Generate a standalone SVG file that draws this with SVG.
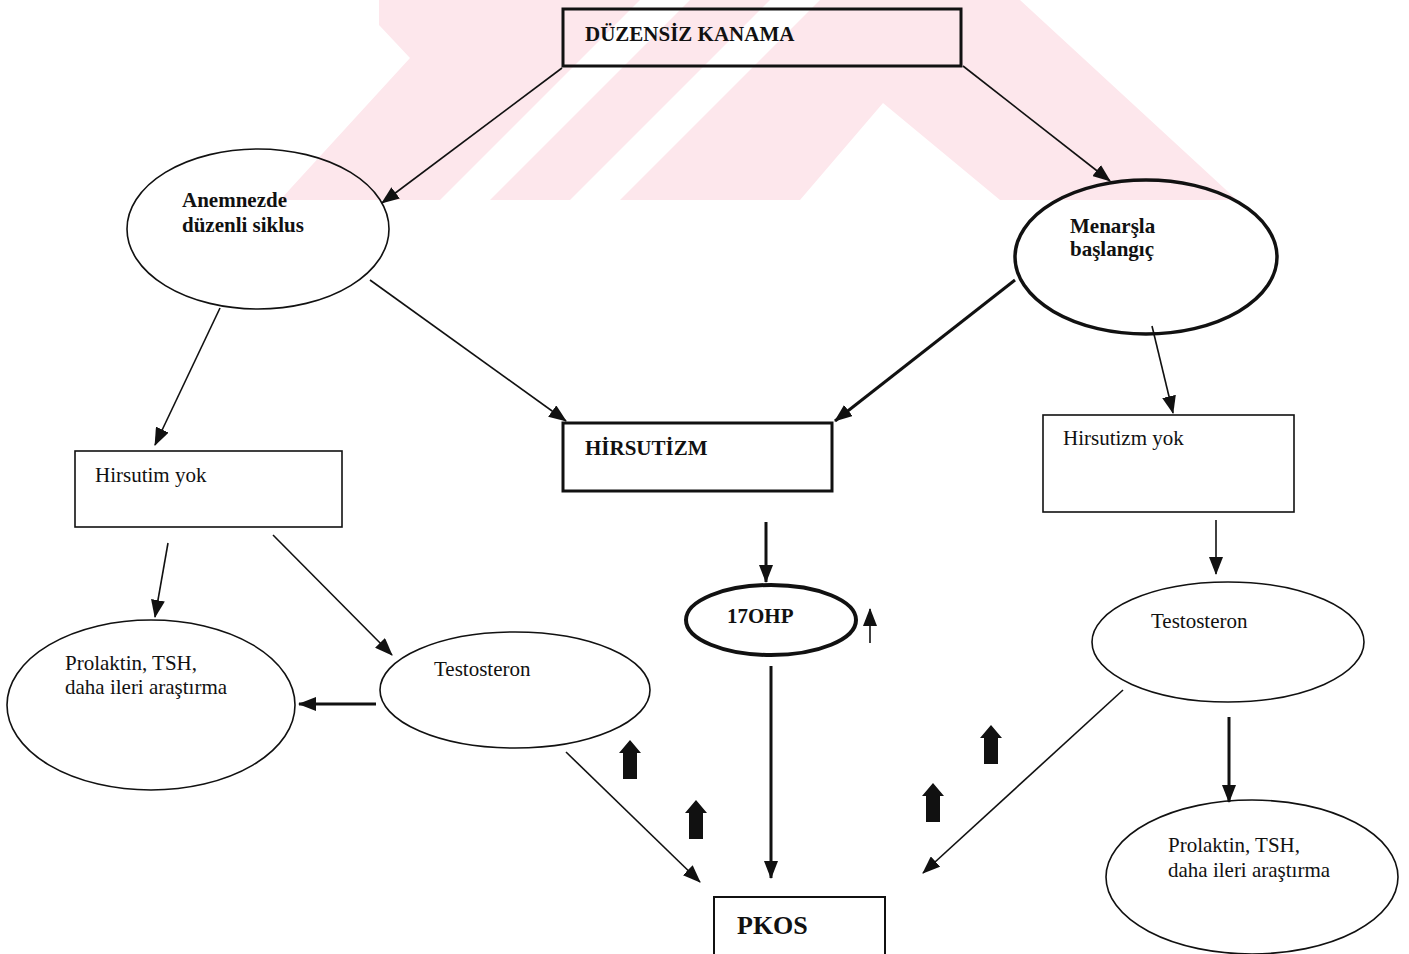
<svg xmlns="http://www.w3.org/2000/svg" xmlns:xlink="http://www.w3.org/1999/xlink" width="1409" height="954" viewBox="0 0 1409 954">
<style>
.b{font-family:"Liberation Serif","Times New Roman",serif;font-weight:bold;font-size:21px;fill:#111}
.r{font-family:"Liberation Serif","Times New Roman",serif;font-size:21px;fill:#111}
.n{fill:none;stroke:#111}
.c{fill:none;stroke:#111;stroke-width:1.6}
.ct{fill:none;stroke:#111;stroke-width:3}
.wm{fill:#fde7ec}
</style>
<defs>
<marker id="ah" markerUnits="userSpaceOnUse" markerWidth="18" markerHeight="14" refX="17" refY="7" orient="auto">
<path d="M0,0 L18,7 L0,14 z" fill="#111"/>
</marker>
<path id="up" d="M0,0 L11,13 L7,13 L7,39 L-7,39 L-7,13 L-11,13 z" fill="#111"/>
<clipPath id="wmc"><rect x="0" y="0" width="1409" height="200"/></clipPath>
</defs>
<rect width="1409" height="954" fill="#fff"/>
<g id="watermark" clip-path="url(#wmc)">
<polygon class="wm" points="379,0 640,0 440,200 280,200 410,58 379,25"/>
<polygon class="wm" points="690,0 770,0 570,200 490,200"/>
<polygon class="wm" points="820,0 1020,0 1237,200 1000,200 883,103 800,200 620,200"/>
</g>
<g id="connectors">
<line class="c" x1="562" y1="68" x2="382" y2="203" marker-end="url(#ah)"/>
<line class="c" x1="963" y1="66" x2="1110" y2="181" marker-end="url(#ah)"/>
<line class="c" x1="220" y1="308" x2="155" y2="445" marker-end="url(#ah)"/>
<line class="c" x1="370" y1="280" x2="566" y2="421" marker-end="url(#ah)"/>
<line class="ct" x1="1015" y1="280" x2="835" y2="421" marker-end="url(#ah)"/>
<line class="c" x1="1152" y1="326" x2="1173" y2="413" marker-end="url(#ah)"/>
<line class="ct" x1="766" y1="522" x2="766" y2="582" marker-end="url(#ah)"/>
<line class="c" x1="168" y1="543" x2="155" y2="617" marker-end="url(#ah)"/>
<line class="c" x1="273" y1="535" x2="392" y2="655" marker-end="url(#ah)"/>
<line class="ct" x1="376" y1="704" x2="299" y2="704" marker-end="url(#ah)"/>
<line class="c" x1="1216" y1="520" x2="1216" y2="574" marker-end="url(#ah)"/>
<line class="ct" x1="1229" y1="717" x2="1229" y2="802" marker-end="url(#ah)"/>
<line class="c" x1="566" y1="752" x2="700" y2="882" marker-end="url(#ah)"/>
<line class="ct" x1="771" y1="666" x2="771" y2="878" marker-end="url(#ah)"/>
<line class="c" x1="1123" y1="690" x2="923" y2="873" marker-end="url(#ah)"/>
<line class="c" x1="870" y1="643" x2="870" y2="609" marker-end="url(#ah)"/>
<use xlink:href="#up" x="630" y="740"/>
<use xlink:href="#up" x="696" y="800"/>
<use xlink:href="#up" x="991" y="725"/>
<use xlink:href="#up" x="933" y="783"/>
</g>
<g id="duzensiz">
<rect class="n" x="563" y="9" width="398" height="57" stroke-width="3" fill="none"/>
<text class="b" x="585" y="41">DÜZENSİZ KANAMA</text>
</g>
<g id="anemnezde">
<ellipse class="n" cx="258" cy="229" rx="131" ry="80" stroke-width="1.6"/>
<text class="b" x="182" y="207">Anemnezde</text>
<text class="b" x="182" y="232">düzenli siklus</text>
</g>
<g id="menarsla">
<ellipse class="n" cx="1146" cy="257" rx="131" ry="77" stroke-width="3.5"/>
<text class="b" x="1070" y="233">Menarşla</text>
<text class="b" x="1070" y="256">başlangıç</text>
</g>
<g id="hirsutizm">
<rect class="n" x="563" y="423" width="269" height="68" stroke-width="3"/>
<text class="b" x="585" y="455">HİRSUTİZM</text>
</g>
<g id="hirsutim-yok-left">
<rect class="n" x="75" y="451" width="267" height="76" stroke-width="1.6"/>
<text class="r" x="95" y="482">Hirsutim yok</text>
</g>
<g id="hirsutizm-yok-right">
<rect class="n" x="1043" y="415" width="251" height="97" stroke-width="1.6"/>
<text class="r" x="1063" y="445">Hirsutizm yok</text>
</g>
<g id="ohp">
<ellipse class="n" cx="771" cy="620" rx="85" ry="35" stroke-width="4"/>
<text class="b" x="727" y="623">17OHP</text>
</g>
<g id="prolaktin-left">
<ellipse class="n" cx="151" cy="705" rx="144" ry="85" stroke-width="1.6"/>
<text class="r" x="65" y="670">Prolaktin, TSH,</text>
<text class="r" x="65" y="694">daha ileri araştırma</text>
</g>
<g id="testosteron-left">
<ellipse class="n" cx="515" cy="690" rx="135" ry="58" stroke-width="1.6"/>
<text class="r" x="434" y="676">Testosteron</text>
</g>
<g id="testosteron-right">
<ellipse class="n" cx="1228" cy="642" rx="136" ry="60" stroke-width="1.6"/>
<text class="r" x="1151" y="628">Testosteron</text>
</g>
<g id="prolaktin-right">
<ellipse class="n" cx="1252" cy="877" rx="146" ry="77" stroke-width="1.6"/>
<text class="r" x="1168" y="852">Prolaktin, TSH,</text>
<text class="r" x="1168" y="877">daha ileri araştırma</text>
</g>
<g id="pkos">
<rect class="n" x="714" y="897" width="171" height="70" stroke-width="2"/>
<text class="b" x="737" y="934" style="font-size:26px">PKOS</text>
</g>
</svg>
